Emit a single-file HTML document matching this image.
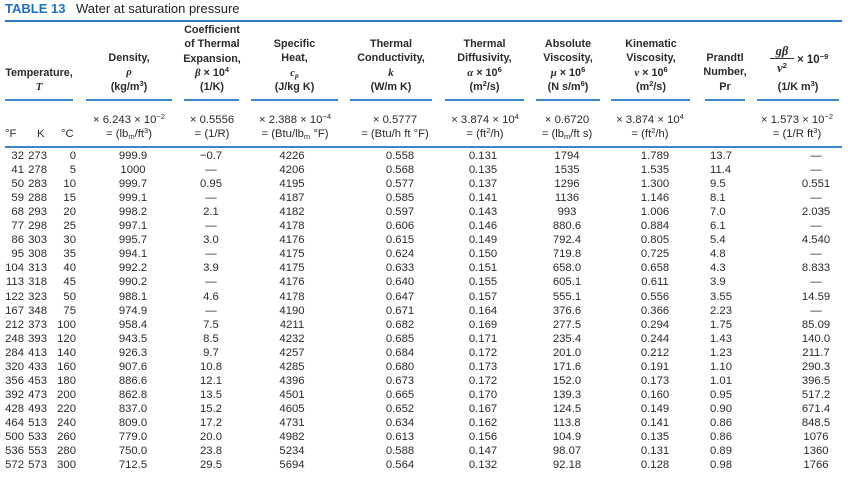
<!DOCTYPE html>
<html><head><meta charset="utf-8"><style>
body{margin:0;width:848px;height:479px;background:#fff;position:relative;overflow:hidden;font-family:"Liberation Sans","DejaVu Sans",sans-serif;color:#2a2a2a}
.a{position:absolute;white-space:nowrap;line-height:1}
.h{font-weight:bold;font-size:10.8px;text-align:center;line-height:14.3px;color:#2a2a2a}
.u{font-size:11.3px;text-align:center;line-height:14px}
.d{font-size:11.3px;line-height:1}
.ln{position:absolute;background:#3a86cc;height:1.5px}
sup,sub{font-size:7.5px;line-height:0;vertical-align:baseline;position:relative}
sup{top:-4px}
sub{top:2px}
i{font-family:"Liberation Serif",serif}
</style></head><body>
<div class="a" style="left:5px;top:2px;font-size:13px;font-weight:bold;color:#1f6fbf">TABLE 13</div>
<div class="a" style="left:76px;top:2px;font-size:13px;color:#222">Water at saturation pressure</div>
<div class="ln" style="left:5px;top:20px;width:837px;height:2px;background:#2a78c6"></div>

<div class="a h" style="left:0px;width:78px;top:66px">Temperature,<br><i>T</i></div>
<div class="a h" style="left:86px;width:86px;top:51px">Density,<br><i>ρ</i><br>(kg/m<sup>3</sup>)</div>
<div class="a h" style="left:180px;width:64px;top:23px">Coefficient<br>of Thermal<br>Expansion,<br><i>β</i> × 10<sup>4</sup><br>(1/K)</div>
<div class="a h" style="left:251px;width:87px;top:37px">Specific<br>Heat,<br><i>c<sub>p</sub></i><br>(J/kg K)</div>
<div class="a h" style="left:350px;width:82px;top:37px">Thermal<br>Conductivity,<br><i>k</i><br>(W/m K)</div>
<div class="a h" style="left:445px;width:79px;top:37px">Thermal<br>Diffusivity,<br><i>α</i> × 10<sup>6</sup><br>(m<sup>2</sup>/s)</div>
<div class="a h" style="left:536px;width:64px;top:37px">Absolute<br>Viscosity,<br><i>μ</i> × 10<sup>6</sup><br>(N s/m<sup>6</sup>)</div>
<div class="a h" style="left:611px;width:80px;top:37px">Kinematic<br>Viscosity,<br><i>ν</i> × 10<sup>6</sup><br>(m<sup>2</sup>/s)</div>
<div class="a h" style="left:700px;width:50px;top:51px">Prandtl<br>Number,<br>Pr</div>
<div class="a" style="left:770px;top:44px;font-size:12.5px;font-weight:bold;text-align:center;width:24px;border-bottom:1px solid #333;line-height:14px"><i>gβ</i></div>
<div class="a" style="left:770px;top:61px;font-size:12.5px;font-weight:bold;text-align:center;width:24px;line-height:14px"><i>ν</i><sup>2</sup></div>
<div class="a h" style="left:797px;top:53px;font-size:11.5px">× 10<sup>−9</sup></div>
<div class="a h" style="left:757px;width:82px;top:80px">(1/K m<sup>3</sup>)</div>

<div class="ln" style="left:5px;top:99px;width:68px"></div>
<div class="ln" style="left:86px;top:99px;width:86px"></div>
<div class="ln" style="left:184px;top:99px;width:55px"></div>
<div class="ln" style="left:251px;top:99px;width:87px"></div>
<div class="ln" style="left:350px;top:99px;width:82px"></div>
<div class="ln" style="left:445px;top:99px;width:79px"></div>
<div class="ln" style="left:536px;top:99px;width:64px"></div>
<div class="ln" style="left:611px;top:99px;width:79px"></div>
<div class="ln" style="left:705px;top:99px;width:40px"></div>
<div class="ln" style="left:757px;top:99px;width:82px"></div>

<div class="a u" style="left:5px;top:127px">°F</div>
<div class="a u" style="left:37px;top:127px">K</div>
<div class="a u" style="left:61px;top:127px">°C</div>
<div class="a u" style="left:80px;width:98px;top:113px">× 6.243 × 10<sup>−2</sup><br>= (lb<sub>m</sub>/ft<sup>3</sup>)</div>
<div class="a u" style="left:180px;width:64px;top:113px">× 0.5556<br>= (1/R)</div>
<div class="a u" style="left:245px;width:100px;top:113px">× 2.388 × 10<sup>−4</sup><br>= (Btu/lb<sub>m</sub> °F)</div>
<div class="a u" style="left:345px;width:100px;top:113px">× 0.5777<br>= (Btu/h ft °F)</div>
<div class="a u" style="left:438px;width:94px;top:113px">× 3.874 × 10<sup>4</sup><br>= (ft<sup>2</sup>/h)</div>
<div class="a u" style="left:524px;width:86px;top:113px">× 0.6720<br>= (lb<sub>m</sub>/ft s)</div>
<div class="a u" style="left:603px;width:94px;top:113px">× 3.874 × 10<sup>4</sup><br>= (ft<sup>2</sup>/h)</div>
<div class="a u" style="left:748px;width:98px;top:113px">× 1.573 × 10<sup>−2</sup><br>= (1/R ft<sup>3</sup>)</div>
<div class="ln" style="left:5px;top:146px;width:837px"></div>

<div id="rows"></div>
<script>
var D=`32 273 0 999.9 −0.7 4226 0.558 0.131 1794 1.789 13.7 —
41 278 5 1000 — 4206 0.568 0.135 1535 1.535 11.4 —
50 283 10 999.7 0.95 4195 0.577 0.137 1296 1.300 9.5 0.551
59 288 15 999.1 — 4187 0.585 0.141 1136 1.146 8.1 —
68 293 20 998.2 2.1 4182 0.597 0.143 993 1.006 7.0 2.035
77 298 25 997.1 — 4178 0.606 0.146 880.6 0.884 6.1 —
86 303 30 995.7 3.0 4176 0.615 0.149 792.4 0.805 5.4 4.540
95 308 35 994.1 — 4175 0.624 0.150 719.8 0.725 4.8 —
104 313 40 992.2 3.9 4175 0.633 0.151 658.0 0.658 4.3 8.833
113 318 45 990.2 — 4176 0.640 0.155 605.1 0.611 3.9 —
122 323 50 988.1 4.6 4178 0.647 0.157 555.1 0.556 3.55 14.59
167 348 75 974.9 — 4190 0.671 0.164 376.6 0.366 2.23 —
212 373 100 958.4 7.5 4211 0.682 0.169 277.5 0.294 1.75 85.09
248 393 120 943.5 8.5 4232 0.685 0.171 235.4 0.244 1.43 140.0
284 413 140 926.3 9.7 4257 0.684 0.172 201.0 0.212 1.23 211.7
320 433 160 907.6 10.8 4285 0.680 0.173 171.6 0.191 1.10 290.3
356 453 180 886.6 12.1 4396 0.673 0.172 152.0 0.173 1.01 396.5
392 473 200 862.8 13.5 4501 0.665 0.170 139.3 0.160 0.95 517.2
428 493 220 837.0 15.2 4605 0.652 0.167 124.5 0.149 0.90 671.4
464 513 240 809.0 17.2 4731 0.634 0.162 113.8 0.141 0.86 848.5
500 533 260 779.0 20.0 4982 0.613 0.156 104.9 0.135 0.86 1076
536 553 280 750.0 23.8 5234 0.588 0.147 98.07 0.131 0.89 1360
572 573 300 712.5 29.5 5694 0.564 0.132 92.18 0.128 0.98 1766`.split("\n");
var C=[["r",24],["r",47],["r",76],["c",133],["c",211],["c",292],["c",400],["c",483],["c",567],["c",655],["l",710],["c",816]];
var h="";
D.forEach(function(l,i){var v=l.split(" ");var y=151+i*14.05;
v.forEach(function(t,j){var c=C[j],s;
if(c[0]=="r")s="left:"+(c[1]-60)+"px;width:60px;text-align:right";
else if(c[0]=="c")s="left:"+(c[1]-40)+"px;width:80px;text-align:center";
else s="left:"+c[1]+"px";
h+='<div class="a d" style="top:'+y.toFixed(1)+'px;'+s+'">'+t+'</div>';});});
document.getElementById("rows").innerHTML=h;
</script>
</body></html>
